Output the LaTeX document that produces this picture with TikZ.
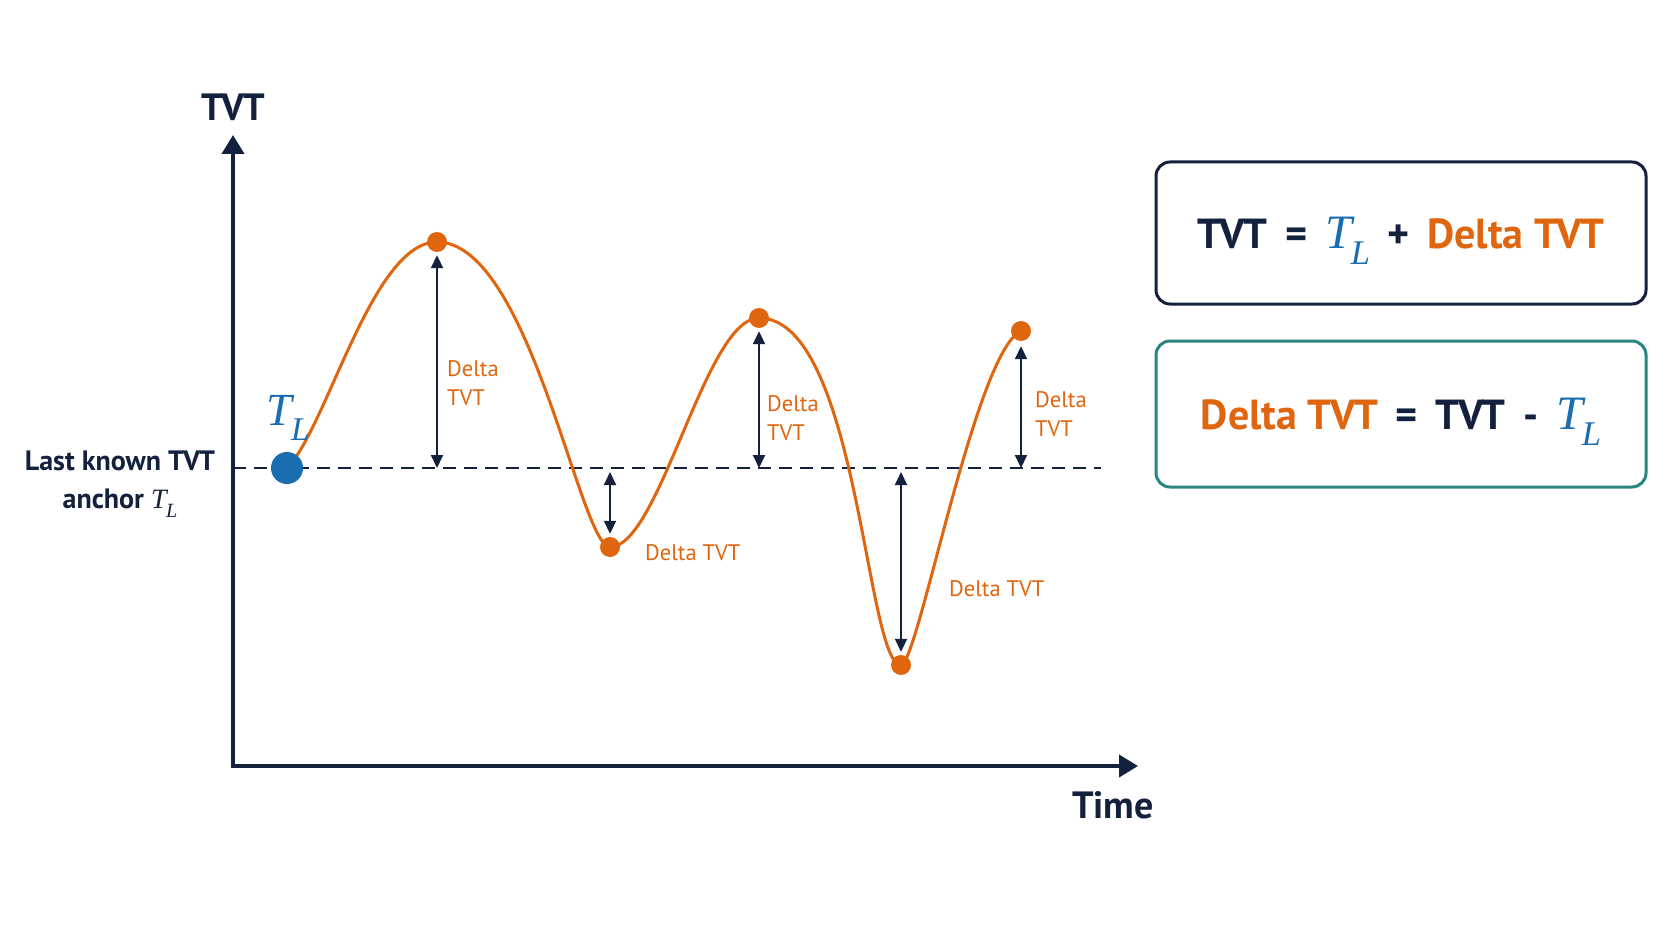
\documentclass[tikz,border=0pt]{standalone}
\usepackage{fontspec}
\setmainfont{PT Sans}
\newfontfamily\tlfont{Liberation Serif}
\usetikzlibrary{arrows.meta}
\definecolor{navy}{HTML}{14213D}
\definecolor{tvtorange}{HTML}{E0650F}
\definecolor{tvtblue}{HTML}{1A6DB0}
\definecolor{tvtteal}{HTML}{2A8583}
\newcommand{\tlsym}{{\tlfont\itshape\mdseries T\kern-0.02em\raisebox{-0.32em}{\scalebox{0.72}{L}}}}
\newcommand{\eqgap}{\hspace{0.42em}}
\tikzstyle{axis} = [navy, line width=4pt, line join=miter,
    {Triangle[length=19pt,width=22pt]}-{Triangle[length=19pt,width=22pt]}]
\tikzstyle{darr} = [navy, line width=2pt,
    {Triangle[length=13pt,width=12pt]}-{Triangle[length=13pt,width=12pt]}]
\tikzstyle{anchorline} = [navy, line width=2.5pt, dash pattern=on 13pt off 8pt]
\tikzstyle{wave} = [tvtorange, line width=3pt]
\tikzstyle{odot} = [circle, fill=tvtorange, inner sep=0pt, minimum size=20pt]
\tikzstyle{bdot} = [circle, fill=tvtblue, inner sep=0pt, minimum size=32pt]
\tikzstyle{dlabel} = [text=tvtorange, font=\fontsize{22.5}{29}\selectfont,
    align=left, inner sep=0pt, anchor=west]
\tikzstyle{axlabel} = [text=navy, font=\bfseries\fontsize{38}{42}\selectfont]
\tikzstyle{eqbox} = [draw, line width=3pt, rounded corners=14pt,
    minimum width=490pt, minimum height=142pt, text=navy, text depth=0pt,
    font=\bfseries\fontsize{42}{50}\selectfont]

\begin{document}
\begin{tikzpicture}[x=1pt, y=-1pt]
                \fill[white] (0,0) rectangle (1672,941);
                \useasboundingbox (0,0) rectangle (1672,941);
                \coordinate (ytip) at (233,135);
                \coordinate (origin) at (233,766);
                \coordinate (xtip) at (1138,766);
                \coordinate (lstart) at (233,468);
                \coordinate (lend) at (1101,468);
                \coordinate (tlpos) at (287,468);
                \coordinate (p1pos) at (437,242);
                \coordinate (v1pos) at (610,547);
                \coordinate (p2pos) at (759,318);
                \coordinate (v2pos) at (901,665);
                \coordinate (p3pos) at (1021,331);
                \draw[axis] (ytip) -- (origin) -- (xtip);
                \draw[anchorline] (lstart) -- (lend);
                \draw[wave] (tlpos) .. controls (327,428) and (372,242) .. (p1pos)
                    .. controls (530,242) and (580,547) .. (v1pos)
                    .. controls (660,547) and (705,318) .. (p2pos)
                    .. controls (858,318) and (866,665) .. (v2pos)
                    .. controls (918,665) and (975,352) .. (p3pos);
                \node[bdot] (tl) at (tlpos) {};
                \node[odot] (p1) at (p1pos) {};
                \node[odot] (v1) at (v1pos) {};
                \node[odot] (p2) at (p2pos) {};
                \node[odot] (v2) at (v2pos) {};
                \node[odot] (p3) at (p3pos) {};
                \coordinate (b1) at (437,468);
                \coordinate (b2) at (610,472);
                \coordinate (b3) at (759,468);
                \coordinate (b4) at (901,472);
                \coordinate (b5) at (1021,468);
                \draw[darr, shorten <=3pt] (p1) -- (b1);
                \draw[darr, shorten >=3pt] (b2) -- (v1);
                \draw[darr, shorten <=3pt] (p2) -- (b3);
                \draw[darr, shorten >=3pt] (b4) -- (v2);
                \draw[darr, shorten <=5pt] (p3) -- (b5);
                \node[dlabel] (d1) at (447,383) {Delta\\TVT};
                \node[dlabel] (d2) at (645,553) {Delta TVT};
                \node[dlabel] (d3) at (767,418) {Delta\\TVT};
                \node[dlabel] (d4) at (949,589) {Delta TVT};
                \node[dlabel] (d5) at (1035,414) {Delta\\TVT};
                \node[axlabel] (ylab) at (233,107) {TVT};
                \node[axlabel] (xlab) at (1113,805) {Time};
                \node[text=tvtblue, font=\fontsize{46}{50}\selectfont] (tllab) at (288,418) {\tlsym};
                \node[text=navy, align=center, font=\bfseries\fontsize{28}{38}\selectfont] (anchorlab) at (120,484)
                    {Last known TVT\\anchor \tlsym};
                \node[eqbox, draw=navy] (sumbox) at (1401,233)
                    {TVT\eqgap=\eqgap{\color{tvtblue}\fontsize{48}{50}\selectfont\tlsym}\eqgap+\eqgap{\color{tvtorange}Delta TVT}};
                \node[eqbox, draw=tvtteal, minimum height=146pt] (diffbox) at (1401,414)
                    {{\color{tvtorange}Delta TVT}\eqgap=\eqgap TVT\eqgap-\eqgap{\color{tvtblue}\fontsize{48}{50}\selectfont\tlsym}};
            \end{tikzpicture}
\end{document}
